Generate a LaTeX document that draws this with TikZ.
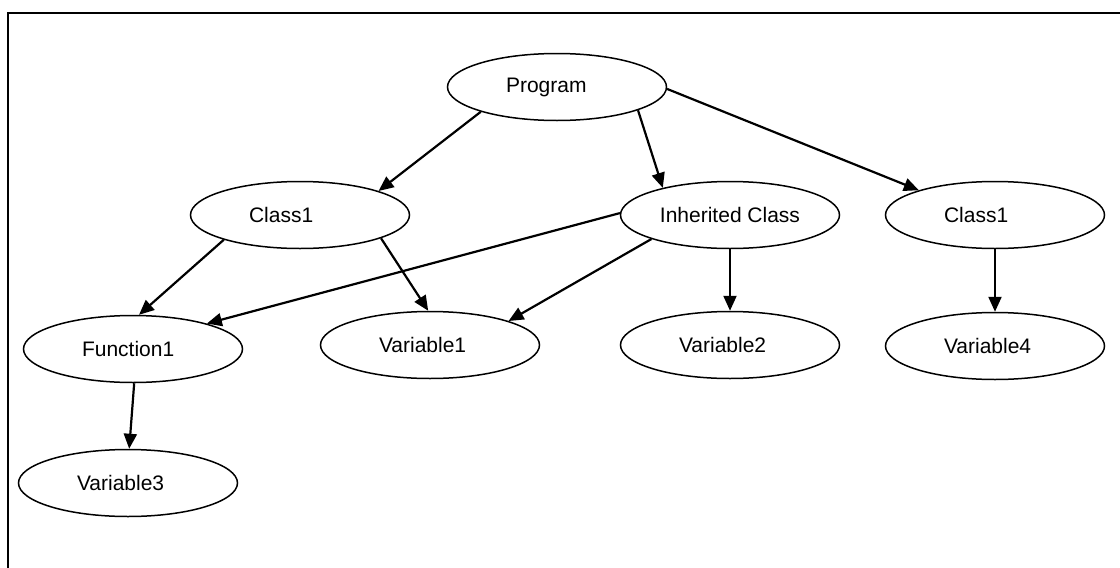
\documentclass[tikz,border=0pt]{standalone}
\usepackage{fontspec}
\setmainfont{Liberation Sans}
\usetikzlibrary{arrows.meta,shapes.geometric}

% label set flush left in a fixed-width box inside the ellipse
\newcommand{\itemtext}[1]{\makebox[102pt][l]{#1}}

\tikzset{
  item/.style={ellipse, draw=black, line width=1.5pt, fill=white,
    minimum width=219pt, minimum height=67pt, inner sep=0pt,
    font=\fontsize{21pt}{24pt}\selectfont},
  link/.style={line width=2.2pt, -{Triangle[length=15pt,width=13pt]}},
  frame/.style={line width=2.2pt}
}

\begin{document}
\begin{tikzpicture}[x=1pt, y=-1pt]
  \useasboundingbox (0,0) rectangle (1120,568);

  % open frame: only the top and left edges fall inside the page
  \draw[frame] (8,575) -- (8,13) -- (1130,13);

  % nodes
  \node[item] (P)  at (557,87)  {\itemtext{Program}};
  \node[item] (C1) at (300,215) {\itemtext{Class1}};
  \node[item] (IC) at (730,215) {Inherited Class};
  \node[item] (C2) at (995,215) {\itemtext{Class1}};
  \node[item] (F1) at (133,349) {\itemtext{Function1}};
  \node[item] (V1) at (430,345) {\itemtext{Variable1}};
  \node[item] (V2) at (730,345) {\itemtext{Variable2}};
  \node[item] (V4) at (995,346) {\itemtext{Variable4}};
  \node[item] (V3) at (128,483) {\itemtext{Variable3}};

  % connectors
  \draw[link] (P.198)  -- (C1.17);
  \draw[link] (P.344)  -- (IC.158);
  \draw[link] (P.359)  -- (C2.162);
  \draw[link] (C1.198) -- (F1.80);
  \draw[link] (C1.344) -- (V1.93);
  \draw[link] (IC.179) -- (F1.19);
  \draw[link] (IC.197) -- (V1.17);
  \draw[link] (IC.270) -- (V2.90);
  \draw[link] (C2.270) -- (V4.90);
  \draw[link] (F1.272) -- (V3.88);
\end{tikzpicture}
\end{document}
